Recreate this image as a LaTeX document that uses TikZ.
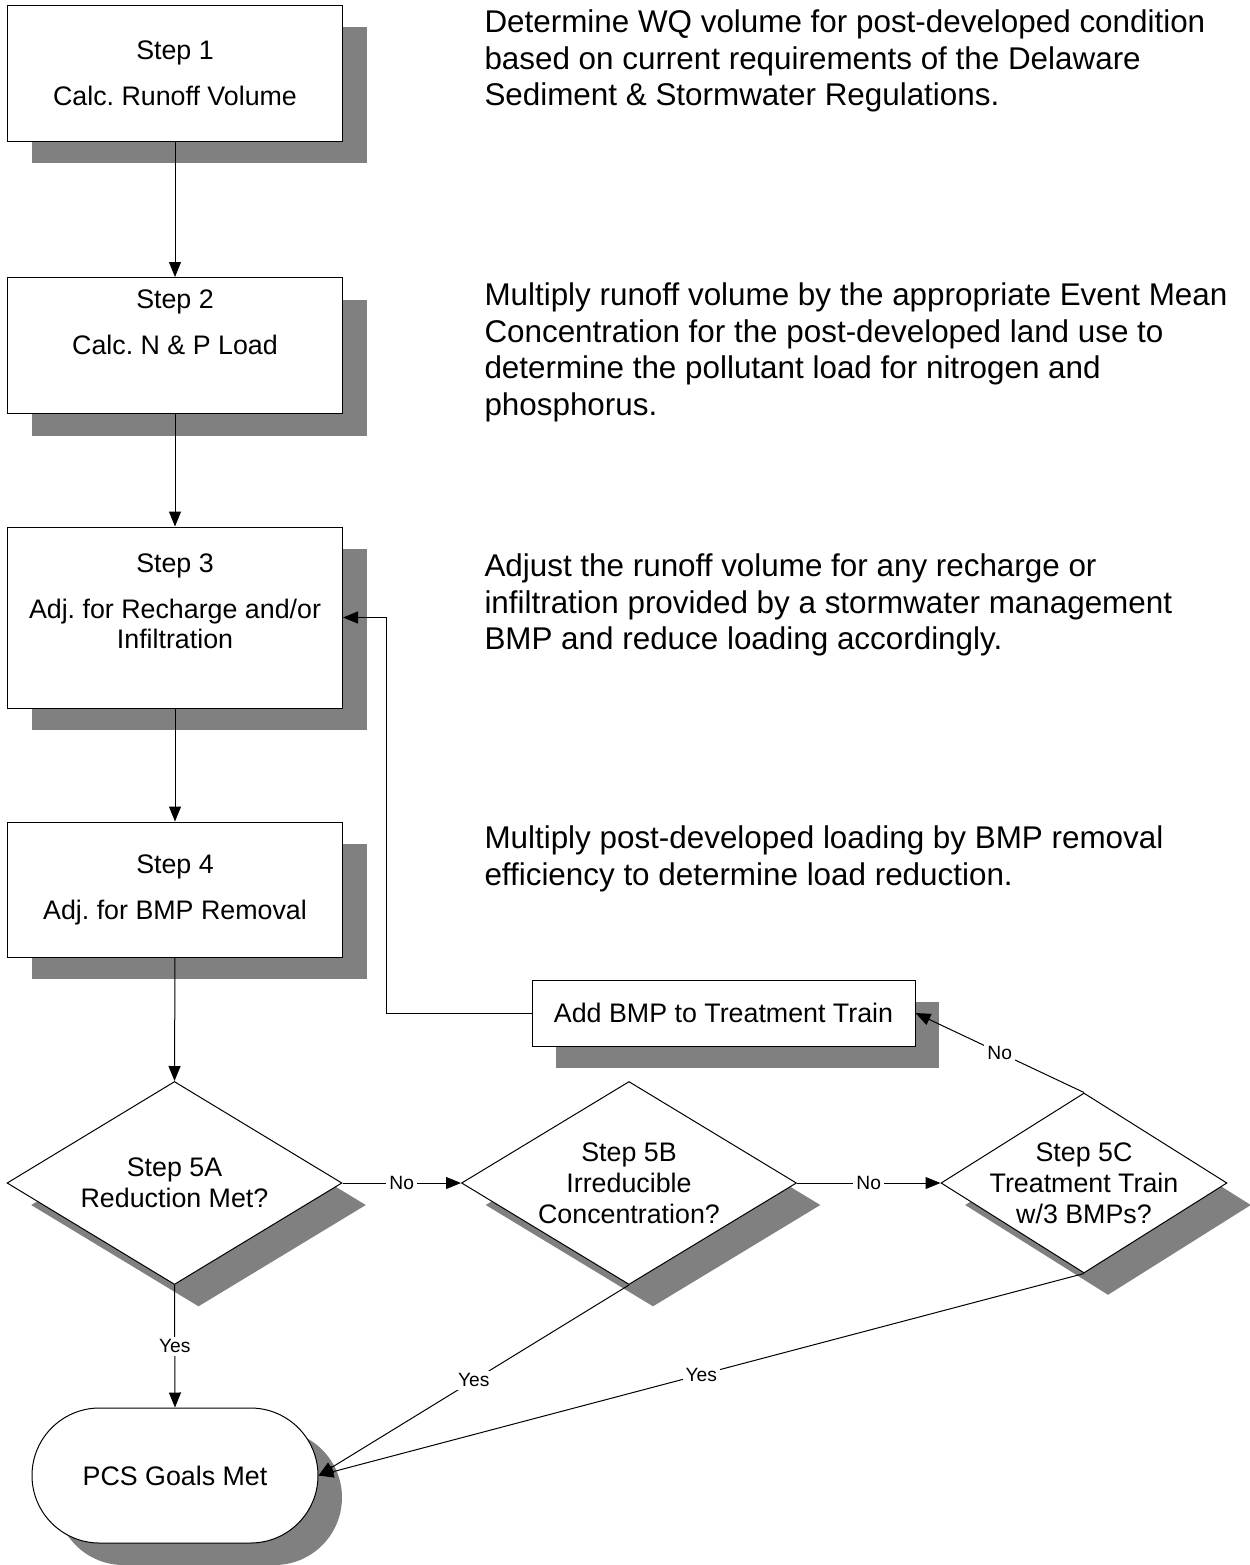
\documentclass[tikz,border=0pt]{standalone}
\usepackage{fontspec}
\setmainfont{Liberation Sans}
\usetikzlibrary{shapes.geometric,shapes.misc,shadows,arrows.meta}
\frenchspacing
\definecolor{shadowgray}{gray}{0.5}
\tikzset{
  dropshade/.style={drop shadow={shadow xshift=12pt,shadow yshift=-11pt,fill=shadowgray,opacity=1}},
  stepbox/.style={draw,fill=white,line width=0.5pt,dropshade,minimum width=167.5pt,
    align=center,inner sep=0pt,font=\fontsize{13.4}{15}\selectfont},
  decision/.style={diamond,draw,fill=white,line width=0.5pt,dropshade,inner sep=0pt},
  decisiontext/.style={align=center,inner sep=0pt,font=\fontsize{13.4}{15.5}\selectfont},
  goal/.style={rounded rectangle,draw,fill=white,line width=0.5pt,dropshade,
    minimum width=143pt,minimum height=67.5pt,inner sep=0pt,font=\fontsize{13.4}{15}\selectfont},
  note/.style={anchor=north west,align=left,inner sep=0pt,font=\fontsize{15.7}{18.3}\selectfont},
  lbl/.style={fill=white,inner sep=1.5pt,font=\fontsize{9.6}{11}\selectfont}
}
\begin{document}
\begin{tikzpicture}[x=0.5pt,y=-0.5pt,line width=0.5pt]
  \useasboundingbox (0,0) rectangle (1249,1565);
  \node[stepbox,minimum height=68pt] (s1) at (175,73) {Step 1\\[8pt]Calc. Runoff Volume};
  \node[stepbox,minimum height=68pt] (s2) at (175,345.5) {Step 2\\[8pt]Calc. N \& P Load\\[8.5pt]\mbox{}};
  \node[stepbox,minimum height=90.5pt] (s3) at (175,617.5) {Step 3\\[8pt]Adj. for Recharge and/or\\Infiltration\\[1pt]\mbox{}};
  \node[stepbox,minimum height=67.5pt] (s4) at (175,889.5) {Step 4\\[8pt]Adj. for BMP Removal};
  \node[stepbox,minimum width=191.5pt,minimum height=33pt] (add) at (723.5,1013) {Add BMP to Treatment Train};
  \node[decision,minimum width=167.5pt,minimum height=101.5pt] (d5a) at (174.5,1183) {};
  \node[decision,minimum width=167.5pt,minimum height=101.5pt] (d5b) at (629,1183) {};
  \node[decision,minimum width=143pt,minimum height=90pt] (d5c) at (1084,1183) {};
  \node[decisiontext] (t5a) at (d5a) {Step 5A\\Reduction Met?};
  \node[decisiontext] (t5b) at (d5b) {Step 5B\\Irreducible\\Concentration?};
  \node[decisiontext] (t5c) at (d5c) {Step 5C\\Treatment Train\\w/3 BMPs?};
  \node[goal] (goal) at (175,1475.5) {PCS Goals Met};
  \node[note] (desc1) at (484,6.4) {\strut Determine WQ volume for post-developed condition\\based on current requirements of the Delaware\\Sediment \& Stormwater Regulations.};
  \node[note] (desc2) at (484,279.4) {\strut Multiply runoff volume by the appropriate Event Mean\\Concentration for the post-developed land use to\\determine the pollutant load for nitrogen and\\phosphorus.};
  \node[note] (desc3) at (484,550.4) {\strut Adjust the runoff volume for any recharge or\\infiltration provided by a stormwater management\\BMP and reduce loading accordingly.};
  \node[note] (desc4) at (484,822.4) {\strut Multiply post-developed loading by BMP removal\\efficiency to determine load reduction.};
  \begin{scope}[-{Triangle[length=7.5pt,width=6pt]}]
    \draw (s1.south) -- (s2.north);
    \draw (s2.south) -- (s3.north);
    \draw (s3.south) -- (s4.north);
    \draw (s4.south) -- (d5a.north);
    \draw (d5a.east) -- node[lbl] {No} (d5b.west);
    \draw (d5b.east) -- node[lbl] {No} (d5c.west);
    \draw (d5c.north) -- node[lbl] {No} (add.east);
    \draw (add.west) -- ++(-145,0) |- (s3.east);
    \draw (d5a.south) -- node[lbl] {Yes} (goal.north);
    \draw (d5b.south) -- node[lbl] {Yes} (goal.east);
    \draw (d5c.south) -- node[lbl] {Yes} (goal.east);
  \end{scope}
\end{tikzpicture}
\end{document}
